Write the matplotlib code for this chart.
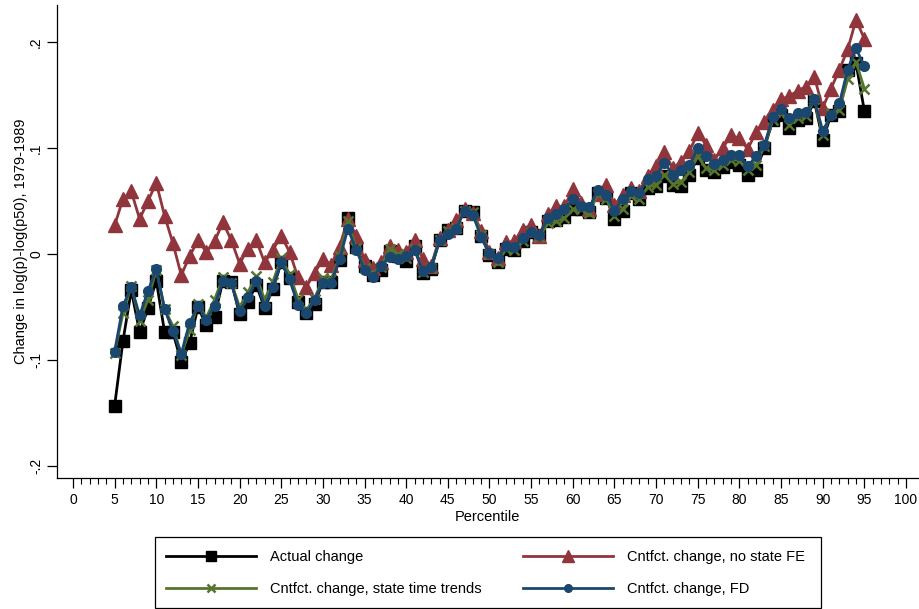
import matplotlib
matplotlib.use("Agg")
import matplotlib.pyplot as plt
from matplotlib.lines import Line2D
from matplotlib.patches import Rectangle
import numpy as np

plt.rcParams['font.family'] = ['Liberation Sans', 'DejaVu Sans']

percentile = list(range(5, 96))

actual = [-0.143, -0.082, -0.034, -0.074, -0.051, -0.025, -0.074, -0.074, -0.102, -0.084,
          -0.050, -0.067, -0.059, -0.025, -0.026, -0.057, -0.045, -0.029, -0.051, -0.033,
          -0.008, -0.023, -0.045, -0.056, -0.047, -0.026, -0.026, -0.006, 0.034, 0.007,
          -0.011, -0.020, -0.015, 0.003, -0.002, -0.007, 0.008, -0.018, -0.014, 0.013,
          0.023, 0.025, 0.041, 0.040, 0.017, -0.001, -0.008, 0.005, 0.004, 0.012,
          0.021, 0.018, 0.031, 0.032, 0.035, 0.042, 0.042, 0.040, 0.058, 0.053,
          0.033, 0.041, 0.058, 0.052, 0.062, 0.064, 0.074, 0.065, 0.064, 0.075,
          0.091, 0.079, 0.077, 0.082, 0.087, 0.084, 0.075, 0.079, 0.100, 0.126,
          0.131, 0.119, 0.126, 0.128, 0.144, 0.108, 0.131, 0.135, 0.174, 0.180,
          0.135]

no_state_fe = [0.027, 0.052, 0.059, 0.033, 0.050, 0.067, 0.036, 0.010, -0.020, -0.002,
               0.013, 0.002, 0.012, 0.030, 0.013, -0.009, 0.005, 0.013, -0.008, 0.004,
               0.017, 0.002, -0.022, -0.031, -0.018, -0.005, -0.010, 0.007, 0.033, 0.017,
               -0.006, -0.013, -0.008, 0.008, 0.004, 0.002, 0.013, -0.005, -0.011, 0.015,
               0.023, 0.032, 0.042, 0.039, 0.022, 0.002, -0.004, 0.011, 0.012, 0.023,
               0.027, 0.017, 0.038, 0.045, 0.045, 0.061, 0.048, 0.042, 0.057, 0.065,
               0.046, 0.056, 0.062, 0.059, 0.074, 0.083, 0.096, 0.081, 0.087, 0.097,
               0.114, 0.103, 0.089, 0.100, 0.112, 0.109, 0.099, 0.115, 0.125, 0.136,
               0.146, 0.149, 0.154, 0.158, 0.167, 0.138, 0.156, 0.174, 0.193, 0.221,
               0.203]

state_trends = [-0.093, -0.056, -0.030, -0.063, -0.043, -0.015, -0.052, -0.068, -0.095, -0.072,
                -0.047, -0.060, -0.043, -0.022, -0.027, -0.050, -0.036, -0.021, -0.043, -0.026,
                -0.004, -0.019, -0.042, -0.053, -0.042, -0.023, -0.024, -0.002, 0.031, 0.006,
                -0.013, -0.018, -0.012, 0.005, 0.000, -0.004, 0.005, -0.017, -0.013, 0.013,
                0.022, 0.025, 0.041, 0.040, 0.018, 0.000, -0.008, 0.005, 0.004, 0.012,
                0.020, 0.016, 0.029, 0.031, 0.034, 0.042, 0.042, 0.039, 0.057, 0.052,
                0.036, 0.042, 0.055, 0.052, 0.063, 0.065, 0.075, 0.066, 0.068, 0.077,
                0.092, 0.081, 0.079, 0.084, 0.089, 0.088, 0.079, 0.084, 0.102, 0.126,
                0.133, 0.122, 0.128, 0.130, 0.146, 0.112, 0.133, 0.136, 0.165, 0.181,
                0.156]

fd = [-0.092, -0.049, -0.031, -0.058, -0.035, -0.014, -0.052, -0.073, -0.094, -0.065,
      -0.049, -0.062, -0.049, -0.025, -0.027, -0.054, -0.041, -0.025, -0.049, -0.031,
      -0.008, -0.024, -0.048, -0.056, -0.043, -0.027, -0.027, -0.005, 0.024, 0.004,
      -0.015, -0.022, -0.011, -0.003, -0.005, -0.002, 0.004, -0.016, -0.012, 0.013,
      0.019, 0.024, 0.041, 0.037, 0.016, 0.001, -0.004, 0.008, 0.007, 0.015,
      0.021, 0.018, 0.034, 0.038, 0.042, 0.052, 0.045, 0.044, 0.060, 0.056,
      0.041, 0.052, 0.059, 0.058, 0.071, 0.074, 0.086, 0.075, 0.079, 0.084,
      0.100, 0.092, 0.085, 0.089, 0.093, 0.093, 0.083, 0.092, 0.103, 0.129,
      0.137, 0.128, 0.133, 0.134, 0.146, 0.116, 0.131, 0.142, 0.174, 0.194,
      0.177]

labels = ["Actual change", "Cntfct. change, no state FE",
          "Cntfct. change, state time trends", "Cntfct. change, FD"]
colors = ["#000000", "#90353B", "#55752F", "#1A476F"]

W, H = 919, 609
fig = plt.figure(figsize=(W / 100, H / 100), dpi=100)
ax = fig.add_axes([57 / W, 1 - 478 / H, (918 - 57) / W, (478 - 5) / H])

x = np.array(percentile)
ax.plot(x, actual, color=colors[0], lw=2, marker='s', ms=8, mec=colors[0], zorder=3)
ax.plot(x, no_state_fe, color=colors[1], lw=2, marker='^', ms=10, mec=colors[1], zorder=4)
ax.plot(x, state_trends, color=colors[2], lw=2, marker='x', ms=7, mew=1.8, zorder=5)
ax.plot(x, fd, color=colors[3], lw=2, marker='o', ms=7, mec=colors[3], zorder=6)

# axis ranges: 0..100 spans 73..906 px, y 0.1 per 106 px
ax.set_xlim(-1.92, 101.44)
ax.set_ylim(-0.2113, 0.2349)

ax.set_xticks(range(0, 101, 5))
ax.set_xticks(range(0, 101, 1), minor=True)
ax.tick_params(axis='x', which='major', length=7, width=0.9, labelsize=10, pad=4)
ax.tick_params(axis='x', which='minor', length=4, width=0.8)
ax.set_yticks([-0.2, -0.1, 0, 0.1, 0.2])
ax.set_yticklabels(['-.2', '-.1', '0', '.1', '.2'], rotation=90, va='center')
ax.tick_params(axis='y', length=7, width=0.9, labelsize=10, pad=3)

for s in ['top', 'right']:
    ax.spines[s].set_visible(False)
for s in ['left', 'bottom']:
    ax.spines[s].set_linewidth(0.9)

ax.set_xlabel("Percentile", fontsize=10.5, labelpad=2)
ax.set_ylabel("Change in log(p)-log(p50), 1979-1989", fontsize=10.5, labelpad=1)

handles = [
    Line2D([], [], color=colors[0], lw=2, marker='s', ms=7),
    Line2D([], [], color=colors[1], lw=2, marker='^', ms=9),
    Line2D([], [], color=colors[2], lw=2, marker='x', ms=6, mew=1.8),
    Line2D([], [], color=colors[3], lw=2, marker='o', ms=5.5),
]

# legend frame spanning both columns
fig.add_artist(Rectangle((155 / W, 1 - 608 / H), (821 - 155) / W, (608 - 537) / H,
                         transform=fig.transFigure, fill=False, edgecolor='black', lw=0.9))

fs = 10.5
common = dict(loc='upper left', fontsize=fs, frameon=False, handlelength=6.2,
              handletextpad=0.95, borderpad=0, borderaxespad=0, labelspacing=1.25)
leg1 = fig.legend([handles[0], handles[2]], [labels[0], labels[2]],
                  bbox_to_anchor=(166 / W, 1 - 550 / H), **common)
leg2 = fig.legend([handles[1], handles[3]], [labels[1], labels[3]],
                  bbox_to_anchor=(523 / W, 1 - 550 / H), **common)

fig.savefig("out.png", dpi=100, facecolor='white')
